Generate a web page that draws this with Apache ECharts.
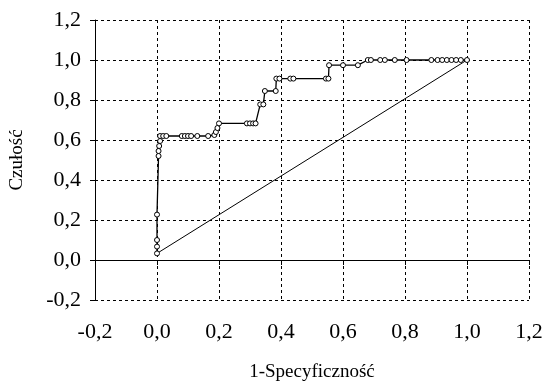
<!DOCTYPE html>
<html>
<head>
<meta charset="utf-8">
<script src="https://cdn.jsdelivr.net/npm/echarts@6/dist/echarts.min.js"></script>
<style>
html,body{margin:0;padding:0;background:#fff;}
#chart{width:544px;height:382px;}
</style>
</head>
<body>
<div id="chart"></div>
<script>
// ROC curve points (1-specificity, sensitivity)
const rocX = [0, 0, 0, 0, 0.005, 0.005, 0.007, 0.01, 0.01, 0.02, 0.03, 0.08, 0.09, 0.10, 0.11, 0.13, 0.165, 0.185, 0.19, 0.195, 0.2,
  0.29, 0.30, 0.31, 0.318, 0.333, 0.343, 0.348, 0.383, 0.385, 0.395, 0.43, 0.44, 0.545, 0.553, 0.555, 0.60, 0.648,
  0.68, 0.69, 0.72, 0.735, 0.767, 0.805, 0.885, 0.905, 0.92, 0.935, 0.95, 0.965, 0.98, 1.0];
const rocY = [0.033, 0.067, 0.10, 0.227, 0.52, 0.545, 0.57, 0.595, 0.62, 0.62, 0.62, 0.62, 0.62, 0.62, 0.62, 0.62, 0.62, 0.625, 0.64, 0.66, 0.683,
  0.683, 0.683, 0.683, 0.683, 0.778, 0.778, 0.845, 0.845, 0.907, 0.907, 0.907, 0.907, 0.907, 0.907, 0.974, 0.974, 0.974,
  1.0, 1.0, 1.0, 1.0, 1.0, 1.0, 1.0, 1.0, 1.0, 1.0, 1.0, 1.0, 1.0, 1.0];
// Reference (chance) line
const refX = [0, 1.0];
const refY = [0.033, 1.0];
// Axis ticks
const axisTicks = [-0.2, 0.0, 0.2, 0.4, 0.6, 0.8, 1.0, 1.2];
const xTitle = '1-Specyficzność';
const yTitle = 'Czułość';

const tickMin = axisTicks[0];
const tickMax = axisTicks[axisTicks.length - 1];
const tickStep = +(axisTicks[1] - axisTicks[0]).toFixed(6);
const fmt = v => (Math.round(v * 10) / 10).toFixed(1).replace('.', ',');
const font = 'Liberation Serif';
const dotted = () => ({ color: '#000', width: 1, type: [3, 3] });

const chart = echarts.init(document.getElementById('chart'), null, { renderer: 'canvas' });
chart.setOption({
  backgroundColor: '#fff',
  animation: false,
  grid: { left: 95, right: 15, top: 20, bottom: 82, containLabel: false, outerBoundsMode: 'none' },
  xAxis: [
    {
      type: 'value', position: 'bottom', min: tickMin, max: tickMax, interval: tickStep,
      axisLine: { show: false, onZero: false },
      axisTick: { show: false },
      axisLabel: { formatter: fmt, color: '#000', fontFamily: font, fontSize: 22, margin: 21 },
      splitLine: { show: true, lineStyle: dotted() },
      name: xTitle, nameLocation: 'middle', nameGap: 63,
      nameTextStyle: { color: '#000', fontFamily: font, fontSize: 19 }
    },
    {
      type: 'value', position: 'bottom', min: tickMin, max: tickMax, interval: tickStep,
      axisLine: { show: true, onZero: true, lineStyle: { color: '#000', width: 1 } },
      axisTick: { show: true, length: 5, lineStyle: { color: '#000' } },
      axisLabel: { show: false },
      splitLine: { show: false }
    }
  ],
  yAxis: {
    type: 'value', position: 'left', min: tickMin, max: tickMax, interval: tickStep,
    axisLine: { show: true, onZero: false, lineStyle: { color: '#000', width: 1 } },
    axisTick: { show: true, length: 5, lineStyle: { color: '#000' } },
    axisLabel: { formatter: fmt, color: '#000', fontFamily: font, fontSize: 22, margin: 14 },
    splitLine: { show: true, lineStyle: dotted() },
    name: yTitle, nameLocation: 'middle', nameGap: 68,
    nameTextStyle: { color: '#000', fontFamily: font, fontSize: 19 }
  },
  series: [
    {
      type: 'line', xAxisIndex: 0,
      data: refX.map((x, i) => [x, refY[i]]),
      showSymbol: false, symbol: 'none',
      lineStyle: { color: '#000', width: 1 },
      silent: true
    },
    {
      type: 'line', xAxisIndex: 0,
      data: rocX.map((x, i) => [x, rocY[i]]),
      symbol: 'circle', symbolSize: 5, showSymbol: true, showAllSymbol: true,
      itemStyle: { color: '#fff', borderColor: '#000', borderWidth: 1 },
      lineStyle: { color: '#000', width: 1.3 },
      silent: true
    }
  ]
});
</script>
</body>
</html>
